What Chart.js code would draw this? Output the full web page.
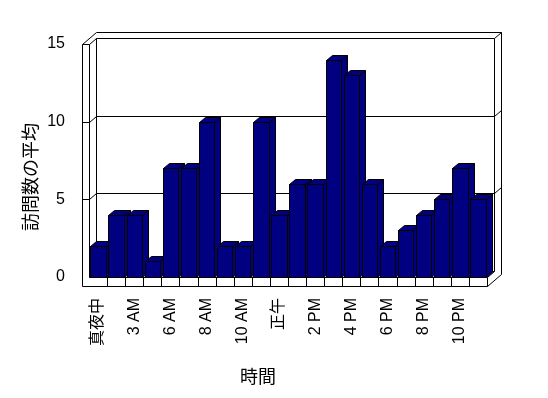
<!DOCTYPE html>
<html>
<head>
<meta charset="utf-8">
<script src="https://cdn.jsdelivr.net/npm/chart.js@4/dist/chart.umd.min.js"></script>
<style>
  html, body { margin: 0; padding: 0; background: #fff; }
  #wrap { width: 548px; height: 398px; }
</style>
</head>
<body>
<div id="wrap"><canvas id="c" width="548" height="398"></canvas></div>
<script>
// Average visits per hour - 3D-style column chart (Excel look)
const hours = ['真夜中', '1 AM', '3 AM', '5 AM', '6 AM', '7 AM', '8 AM', '9 AM', '10 AM', '11 AM',
  '正午', '1 PM', '2 PM', '3 PM', '4 PM', '5 PM', '6 PM', '7 PM', '8 PM', '9 PM', '10 PM', '11 PM'];
const avgVisits = [2, 4, 4, 1, 7, 7, 10, 2, 2, 10, 4, 6, 6, 14, 13, 6, 2, 3, 4, 5, 7, 5];
const yTicks = [0, 5, 10, 15];
const xTitle = '時間';
const yTitle = '訪問数の平均';

const BAR = '#000080';
const DX = 7, DY = -6;    // one wall-depth step
const BDX = 6, BDY = -5;  // bar depth
const WALL = 7, FLOOR = 9;
const FONT = '"Liberation Sans", "Noto Sans CJK JP", sans-serif';

function px(v) { return Math.round(v) + 0.5; }

function line(c, pts) {
  c.beginPath();
  c.moveTo(px(pts[0][0]), px(pts[0][1]));
  for (let i = 1; i < pts.length; i++) c.lineTo(px(pts[i][0]), px(pts[i][1]));
  c.stroke();
}

function poly(c, pts, fill) {
  c.beginPath();
  c.moveTo(px(pts[0][0]), px(pts[0][1]));
  for (let i = 1; i < pts.length; i++) c.lineTo(px(pts[i][0]), px(pts[i][1]));
  c.closePath();
  c.fillStyle = fill;
  c.fill();
  c.stroke();
}

const box3d = {
  id: 'box3d',
  beforeDatasetsDraw(chart) {
    const c = chart.ctx, a = chart.chartArea, ys = chart.scales.y, xs = chart.scales.x;
    const L = a.left, R = a.right, T = a.top, B = a.bottom;
    c.save();
    c.strokeStyle = '#000';
    c.lineWidth = 1;
    // left wall front face
    line(c, [[L - WALL, T], [L - WALL, B + FLOOR]]);
    line(c, [[L, T], [L, B]]);
    line(c, [[L - WALL, T], [L, T]]);
    // left wall top
    line(c, [[L - WALL, T], [L - WALL + 2 * DX, T + 2 * DY]]);
    line(c, [[L, T], [L + DX, T + DY]]);
    // back wall
    line(c, [[L + DX, T + DY], [L + DX, B + DY]]);
    line(c, [[L + DX, T + DY], [R + DX, T + DY]]);
    line(c, [[L - WALL + 2 * DX, T + 2 * DY], [R + 2 * DX, T + 2 * DY]]);
    line(c, [[R + DX, T + DY], [R + 2 * DX, T + 2 * DY]]);
    line(c, [[R + DX, T + DY], [R + DX, B + DY]]);
    line(c, [[R + 2 * DX, T + 2 * DY], [R + 2 * DX, B + FLOOR + 2 * DY]]);
    // gridlines
    yTicks.forEach(v => {
      if (v === 0 || v === yTicks[yTicks.length - 1]) return;
      const f = ys.getPixelForValue(v);
      line(c, [[L - WALL, f], [L, f], [L + DX, f + DY], [R + DX, f + DY], [R + 2 * DX, f + 2 * DY]]);
    });
    // floor
    line(c, [[L, B], [L + DX, B + DY]]);
    line(c, [[L + DX, B + DY], [R + DX, B + DY]]);
    line(c, [[L, B], [R, B], [R + DX, B + DY]]);
    line(c, [[L - WALL, B + FLOOR], [R, B + FLOOR], [R + 2 * DX, B + FLOOR + 2 * DY]]);
    line(c, [[R, B], [R, B + FLOOR]]);
    const n = hours.length;
    for (let i = 1; i < n; i++) {
      const xb = (xs.getPixelForValue(i - 1) + xs.getPixelForValue(i)) / 2;
      line(c, [[xb, B], [xb, B + FLOOR]]);
    }
    c.restore();
  },
  beforeDatasetDraw() { return false; },
  afterDatasetsDraw(chart) {
    const c = chart.ctx;
    c.save();
    c.strokeStyle = '#000';
    c.lineWidth = 1;
    chart.getDatasetMeta(0).data.forEach(el => {
      const p = el.getProps(['x', 'y', 'base', 'width'], true);
      const l = p.x - p.width / 2, r = p.x + p.width / 2, t = p.y, b = p.base;
      poly(c, [[r, t], [r + BDX, t + BDY], [r + BDX, b + BDY], [r, b]], BAR);
      poly(c, [[l, t], [l + BDX, t + BDY], [r + BDX, t + BDY], [r, t]], BAR);
      poly(c, [[l, t], [r, t], [r, b], [l, b]], BAR);
    });
    c.restore();
  },
  afterDraw(chart) {
    const c = chart.ctx, a = chart.chartArea;
    c.save();
    c.fillStyle = '#000';
    c.font = '18px "Noto Sans CJK JP", sans-serif';
    c.textAlign = 'center';
    c.textBaseline = 'middle';
    c.fillText(xTitle, a.left + 169, a.bottom + 99);
    c.translate(30, a.top + 133);
    c.rotate(-Math.PI / 2);
    c.fillText(yTitle, 0, 0);
    c.restore();
  }
};

new Chart(document.getElementById('c'), {
  type: 'bar',
  data: {
    labels: hours,
    datasets: [{
      data: avgVisits,
      backgroundColor: BAR,
      borderColor: '#000',
      borderWidth: 1,
      barPercentage: 0.85,
      categoryPercentage: 1
    }]
  },
  options: {
    responsive: false,
    animation: false,
    layout: { padding: { top: 44, right: 61, left: 0, bottom: 0 } },
    plugins: { legend: { display: false }, tooltip: { enabled: false } },
    scales: {
      x: {
        grid: { display: false, drawTicks: false },
        border: { display: false },
        afterFit: s => { s.height = 121; },
        ticks: {
          autoSkip: false,
          minRotation: 90,
          maxRotation: 90,
          padding: 21,
          color: '#000',
          font: { family: FONT, size: 16 },
          callback: (v, i) => (i % 2 === 0 ? hours[i] : '')
        }
      },
      y: {
        min: 0,
        max: 15,
        grid: { display: false, drawTicks: false },
        border: { display: false },
        afterFit: s => { s.width = 89; },
        ticks: {
          stepSize: 5,
          padding: 24,
          color: '#000',
          font: { family: FONT, size: 16 }
        }
      }
    }
  },
  plugins: [box3d]
});
</script>
</body>
</html>
